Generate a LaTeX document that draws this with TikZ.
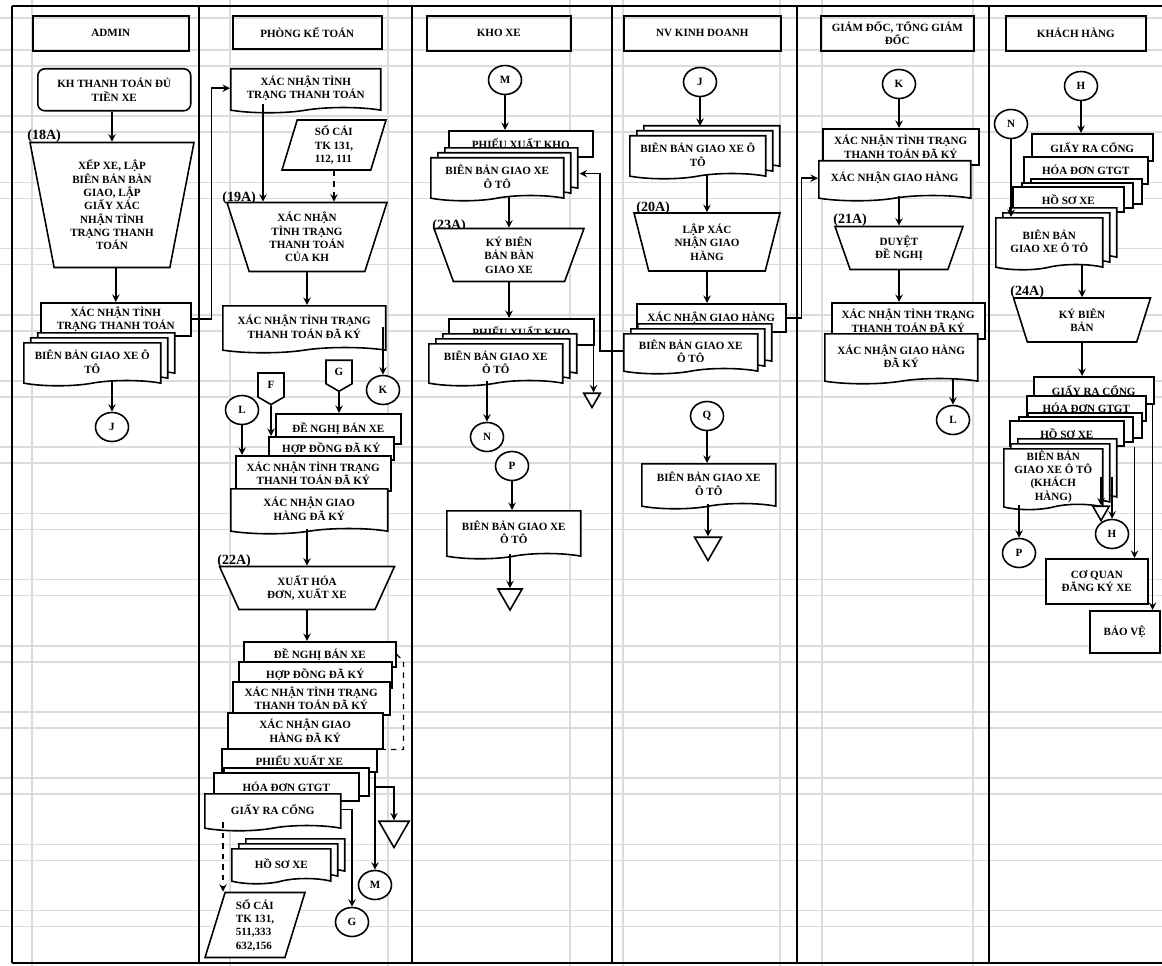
\documentclass[tikz,border=0pt]{standalone}
\usepackage{fontspec}
\setmainfont{Liberation Serif}
\usepackage{tikz}
\usetikzlibrary{shapes,arrows,positioning,calc,shadows}

\begin{document}
\begin{tikzpicture}[
    x=0.02cm, y=-0.02cm,
    font=\fontsize{6.3}{7.6}\selectfont\bfseries,
    gridline/.style={draw=black!14, line width=0.9pt},
    lane/.style={line width=1.1pt},
    head/.style={rectangle, draw, line width=0.9pt, align=center, inner sep=1pt},
    box/.style={rectangle, draw, fill=white, line width=0.9pt, align=center, inner sep=1pt},
    boxstack/.style={box, double copy shadow={shadow xshift=0.18cm, shadow yshift=0.08cm}},
    doc/.style={tape, tape bend top=none, tape bend height=3pt, draw, fill=white, line width=0.9pt, align=center, inner sep=1pt},
    docstack/.style={doc, double copy shadow={shadow xshift=0.14cm, shadow yshift=0.1cm}},
    manop/.style={trapezium, shape border rotate=180, trapezium stretches body, draw, fill=white, line width=0.9pt, align=center, inner sep=0pt},
    ledger/.style={trapezium, trapezium left angle=70, trapezium right angle=110, trapezium stretches body, draw, fill=white, line width=0.9pt, align=left, inner sep=1pt},
    conn/.style={ellipse, draw, fill=white, line width=0.9pt, minimum width=0.66cm, minimum height=0.58cm, inner sep=0pt},
    offpage/.style={signal, signal to=south, signal pointer angle=120, draw, fill=white, line width=0.9pt, minimum width=0.52cm, minimum height=0.52cm, inner sep=0pt},
    sink/.style={regular polygon, regular polygon sides=3, shape border rotate=180, draw, fill=white, line width=0.9pt, inner sep=0pt, minimum size=0.6cm},
    tag/.style={font=\fontsize{8}{9}\selectfont\bfseries, inner sep=0pt},
    arrow/.style={-stealth, line width=0.9pt}
]
    \useasboundingbox (0,0) rectangle (1162,966);
    \foreach \gy in {0,...,13}{
        \draw[gridline] (0,{50+66.2*\gy}) -- (1162,{50+66.2*\gy});
        \draw[gridline] (0,{66+66.2*\gy}) -- (1162,{66+66.2*\gy});
    }
    \draw[gridline] (0,18) -- (1162,18);
    \foreach \gx in {32,230,388,570,623,780,822,973}
        \draw[gridline] (\gx,0) -- (\gx,966);

    \draw[lane, line width=1.6pt] (12,6) -- (1162,6);
    \draw[lane] (12,963) -- (1162,963);
    \foreach \lx in {12,199,412,612,797,989}
        \draw[lane] (\lx,6) -- (\lx,963);

    \node[head, anchor=north west, minimum width=3.12cm, minimum height=0.7cm] (hAdmin) at (32,15) {ADMIN};
    \node[head, anchor=north west, minimum width=2.98cm, minimum height=0.66cm] (hPkt) at (232,15) {PHÒNG KẾ TOÁN};
    \node[head, anchor=north west, minimum width=2.88cm, minimum height=0.7cm] (hKho) at (426,15) {KHO XE};
    \node[head, anchor=north west, minimum width=3.14cm, minimum height=0.7cm] (hNv) at (623,15) {NV KINH DOANH};
    \node[head, anchor=north west, minimum width=3.06cm, minimum height=0.7cm] (hGd) at (820,15) {GIÁM ĐỐC, TỔNG GIÁM\\ĐỐC};
    \node[head, anchor=north west, minimum width=2.8cm, minimum height=0.7cm] (hKh) at (1005,15) {KHÁCH HÀNG};

    \node[box, rounded corners=4pt, anchor=north west, minimum width=3.06cm, minimum height=0.84cm] (khTT) at (37,68) {KH THANH TOÁN ĐỦ\\TIỀN XE};
    \node[tag, anchor=south west] (tag18) at (27,143) {(18A)};
    \node[manop, trapezium angle=75, minimum width=3.28cm, minimum height=2.5cm] (xepXe) at (112,205) {XẾP XE, LẬP\\BIÊN BẢN BÀN\\GIAO, LẬP\\GIẤY XÁC\\NHẬN TÌNH\\TRẠNG THANH\\TOÁN};
    \node[box, anchor=north west, minimum width=3cm, minimum height=0.66cm] (aXn) at (40,302) {XÁC NHẬN TÌNH\\TRẠNG THANH TOÁN};
    \node[docstack, anchor=north west, minimum width=2.74cm, minimum height=0.86cm] (aBb) at (23,342) {BIÊN BẢN GIAO XE Ô\\TÔ};
    \node[conn] (jA) at (112,427) {J};

    \node[doc, anchor=north west, minimum width=3cm, minimum height=0.88cm] (xnTT) at (230,68) {XÁC NHẬN TÌNH\\TRẠNG THANH TOÁN};
    \node[ledger, minimum width=2.08cm, minimum height=1cm] (soCai1) at (334,145) {SỔ CÁI\\TK 131,\\112, 111};
    \node[tag, anchor=south west] (tag19) at (222,205) {(19A)};
    \node[manop, trapezium angle=66, minimum width=3.2cm, minimum height=1.38cm] (xnKH) at (307,237) {XÁC NHẬN\\TÌNH TRẠNG\\THANH TOÁN\\CỦA KH};
    \node[doc, anchor=north west, minimum width=3.26cm, minimum height=0.94cm] (xnDK) at (222,305) {XÁC NHẬN TÌNH TRẠNG\\THANH TOÁN ĐÃ KÝ};
    \node[conn] (kA) at (383,390) {K};
    \node[offpage] (offF) at (271,385) {F};
    \node[offpage] (offG) at (339,372) {G};
    \node[conn] (lA) at (242,410) {L};
    \node[box, anchor=north west, minimum width=2.5cm, minimum height=0.6cm] (s1a) at (275,413) {ĐỀ NGHỊ BÁN XE};
    \node[box, anchor=north west, minimum width=2.5cm, minimum height=0.46cm] (s1b) at (268,436) {HỢP ĐỒNG ĐÃ KÝ};
    \node[box, anchor=north west, minimum width=3.1cm, minimum height=0.7cm] (s1c) at (235,455) {XÁC NHẬN TÌNH TRẠNG\\THANH TOÁN ĐÃ KÝ};
    \node[doc, anchor=north west, minimum width=3.14cm, minimum height=0.9cm] (s1d) at (230,488) {XÁC NHẬN GIAO\\HÀNG ĐÃ KÝ};
    \node[tag, anchor=south west] (tag22) at (217,568) {(22A)};
    \node[manop, trapezium angle=52, minimum width=3.5cm, minimum height=0.86cm] (xuatHD) at (307,588) {XUẤT HÓA\\ĐƠN, XUẤT XE};
    \node[box, anchor=north west, minimum width=3.04cm, minimum height=0.5cm] (t1) at (243,641) {ĐỀ NGHỊ BÁN XE};
    \node[box, anchor=north west, minimum width=3.06cm, minimum height=0.52cm] (t2) at (238,661) {HỢP ĐỒNG ĐÃ KÝ};
    \node[box, anchor=north west, minimum width=3.14cm, minimum height=0.66cm] (t3) at (232,681) {XÁC NHẬN TÌNH TRẠNG\\THANH TOÁN ĐÃ KÝ};
    \node[box, anchor=north west, minimum width=3.1cm, minimum height=0.72cm] (t4) at (227,712) {XÁC NHẬN GIAO\\HÀNG ĐÃ KÝ};
    \node[box, anchor=north west, minimum width=3.1cm, minimum height=0.46cm] (t5) at (221,748) {PHIẾU XUẤT XE};
    \node[box, copy shadow={shadow xshift=0.2cm, shadow yshift=0.1cm}, anchor=north west, minimum width=2.9cm, minimum height=0.56cm] (t6) at (213,772) {HÓA ĐƠN GTGT};
    \node[doc, anchor=north west, minimum width=2.72cm, minimum height=0.74cm] (t7) at (204,793) {GIẤY RA CỔNG};
    \node[docstack, anchor=north west, minimum width=1.98cm, minimum height=0.7cm] (hoSo) at (231,848) {HỒ SƠ XE};
    \node[ledger, minimum width=2cm, minimum height=1.3cm] (soCai2) at (255,925) {SỔ CÁI\\TK 131,\\511,333\\632,156};
    \node[conn] (mA) at (375,885) {M};
    \node[conn] (gA) at (352,922) {G};
    \node[sink, minimum size=0.7cm] (tri1) at (394,830) {};

    \node[conn] (mB) at (505,80) {M};
    \node[box, anchor=north west, minimum width=2.88cm, minimum height=0.52cm] (k1a) at (448,130) {PHIẾU XUẤT KHO};
    \node[docstack, anchor=north west, minimum width=2.66cm, minimum height=0.86cm] (k1b) at (430,157) {BIÊN BẢN GIAO XE\\Ô TÔ};
    \node[tag, anchor=south west] (tag23) at (432,233) {(23A)};
    \node[manop, trapezium angle=62, minimum width=3cm, minimum height=1.06cm] (kyBB) at (509,255) {KÝ BIÊN\\BẢN BÀN\\GIAO XE};
    \node[box, anchor=north west, minimum width=2.9cm, minimum height=0.52cm] (k2a) at (448,318) {PHIẾU XUẤT KHO};
    \node[docstack, anchor=north west, minimum width=2.68cm, minimum height=0.84cm] (k2b) at (428,343) {BIÊN BẢN GIAO XE\\Ô TÔ};
    \node[sink, minimum size=0.38cm] (tri2) at (592,398) {};
    \node[conn] (nA) at (487,437) {N};
    \node[conn] (pA) at (512,466) {P};
    \node[doc, anchor=north west, minimum width=2.68cm, minimum height=0.96cm] (bbP) at (446,510) {BIÊN BẢN GIAO XE\\Ô TÔ};
    \node[sink, minimum size=0.56cm] (tri3) at (510,596) {};

    \node[conn] (jB) at (700,82) {J};
    \node[docstack, anchor=north west, minimum width=2.72cm, minimum height=0.86cm] (nv1) at (629,135) {BIÊN BẢN GIAO XE Ô\\TÔ};
    \node[tag, anchor=south west] (tag20) at (636,215) {(20A)};
    \node[manop, trapezium angle=68, minimum width=2.92cm, minimum height=1.16cm] (lapXN) at (707,242) {LẬP XÁC\\NHẬN GIAO\\HÀNG};
    \node[box, anchor=north west, minimum width=2.98cm, minimum height=0.56cm] (nv2a) at (636,303) {XÁC NHẬN GIAO HÀNG};
    \node[docstack, anchor=north west, minimum width=2.68cm, minimum height=0.8cm] (nv2b) at (623,333) {BIÊN BẢN GIAO XE\\Ô TÔ};
    \node[conn] (qA) at (707,416) {Q};
    \node[doc, anchor=north west, minimum width=2.68cm, minimum height=0.9cm] (bbQ) at (641,463) {BIÊN BẢN GIAO XE\\Ô TÔ};
    \node[sink, minimum size=0.62cm] (tri4) at (708,545) {};

    \node[conn] (kB) at (899,84) {K};
    \node[box, anchor=north west, minimum width=3.12cm, minimum height=0.72cm] (gd1a) at (822,128) {XÁC NHẬN TÌNH TRẠNG\\THANH TOÁN ĐÃ KÝ};
    \node[doc, anchor=north west, minimum width=3.04cm, minimum height=0.8cm] (gd1b) at (818,160) {XÁC NHẬN GIAO HÀNG};
    \node[tag, anchor=south west] (tag21) at (833,227) {(21A)};
    \node[manop, trapezium angle=59, minimum width=2.56cm, minimum height=0.86cm] (duyet) at (899,248) {DUYỆT\\ĐỀ NGHỊ};
    \node[box, anchor=north west, minimum width=3.06cm, minimum height=0.72cm] (gd2a) at (831,302) {XÁC NHẬN TÌNH TRẠNG\\THANH TOÁN ĐÃ KÝ};
    \node[doc, anchor=north west, minimum width=3.06cm, minimum height=1cm] (gd2b) at (824,333) {XÁC NHẬN GIAO HÀNG\\ĐÃ KÝ};
    \node[conn] (lB) at (953,420) {L};

    \node[conn] (hA) at (1081,86) {H};
    \node[conn] (nB) at (1011,124) {N};
    \node[box, anchor=north west, minimum width=2.42cm, minimum height=0.54cm] (kh1a) at (1031,133) {GIẤY RA CỔNG};
    \node[box, anchor=north west, minimum width=2.48cm, minimum height=0.54cm] (kh1b) at (1023,156) {HÓA ĐƠN GTGT};
    \node[boxstack, anchor=north west, minimum width=2.22cm, minimum height=0.5cm] (kh1c) at (1012,186) {HỒ SƠ XE};
    \node[docstack, anchor=north west, minimum width=2.14cm, minimum height=1.04cm] (kh1d) at (995,217) {BIÊN BẢN\\GIAO XE Ô TÔ};
    \node[tag, anchor=south west] (tag24) at (1010,299) {(24A)};
    \node[manop, trapezium angle=59, minimum width=2.74cm, minimum height=0.88cm] (kyBan) at (1082,320) {KÝ BIÊN\\BẢN};
    \node[box, anchor=north west, minimum width=2.4cm, minimum height=0.54cm] (kh2a) at (1033,376) {GIẤY RA CỔNG};
    \node[box, anchor=north west, minimum width=2.38cm, minimum height=0.5cm] (kh2b) at (1026,395) {HÓA ĐƠN GTGT};
    \node[boxstack, anchor=north west, minimum width=2.28cm, minimum height=0.5cm] (kh2c) at (1009,420) {HỒ SƠ XE};
    \node[docstack, anchor=north west, minimum width=1.98cm, minimum height=1.2cm] (kh2d) at (1003,448) {BIÊN BẢN\\GIAO XE Ô TÔ\\(KHÁCH\\HÀNG)};
    \node[conn] (pB) at (1019,553) {P};
    \node[sink, minimum size=0.38cm] (tri5) at (1101,511) {};
    \node[conn] (hB) at (1112,534) {H};
    \node[box, anchor=north west, minimum width=2.04cm, minimum height=0.9cm] (cq) at (1045,558) {CƠ QUAN\\ĐĂNG KÝ XE};
    \node[box, anchor=north west, minimum width=1.4cm, minimum height=0.84cm] (bv) at (1089,610) {BẢO VỆ};

    \draw[arrow] (khTT.south -| xepXe) -- (xepXe.north);
    \draw[arrow] (xepXe.south -| aXn) -- (aXn.north);
    \draw[arrow] (aXn.east) -- ++(20,0) |- (xnTT.west);
    \draw[arrow] (jA |- aBb.south) -- (jA);

    \draw[arrow] ($(xnTT.south west)+(33,-4)$) coordinate (c1) -- (c1 |- xnKH.north);
    \draw[arrow, dashed] (soCai1.south) -- (soCai1.south |- xnKH.north);
    \draw[arrow] (xnKH.south) -- (xnKH.south |- xnDK.north);
    \draw[arrow] (xnDK.east -| kA) -- (kA);
    \draw[arrow] (offG) -- (offG |- s1a.north);
    \draw[arrow] (offF) -- (offF |- s1b.north);
    \draw[arrow] (lA) -- (lA |- s1c.north);
    \draw[arrow] (xuatHD.north |- s1d.south) -- (xuatHD.north);
    \draw[arrow] (xuatHD.south) -- (xuatHD.south |- t1.north);
    \draw[dashed, line width=0.7pt] (t1.east) -- ++(7,7) |- (t4.south east);
    \draw[arrow] (t6.east -| mA) -| (tri1);
    \draw[arrow] (t5.south east -| mA) -- (mA);
    \draw[arrow] (t7.east) -| (gA);
    \draw[arrow, dashed] (t7.south west) ++(19,-4) coordinate (c2) -- (c2 |- soCai2.north);

    \draw[arrow] (mB) -- (mB |- k1a.north);
    \draw[arrow] (kyBB.north |- k1b.south) -- (kyBB.north);
    \draw[arrow] (kyBB.south) -- (kyBB.south |- k2a.north);
    \draw[arrow] (k2a.south east) ++(-1,0) coordinate (c3) -- (c3 |- tri2.north);
    \draw[arrow] (nA |- k2b.south) -- (nA);
    \draw[arrow] (pA) -- (pA |- bbP.north);
    \draw[arrow] (tri3 |- bbP.south) -- (tri3);

    \draw[arrow] (jB) -- ($(jB |- nv1.north)+(0,-9)$);
    \draw[arrow] (lapXN.north |- nv1.south) -- (lapXN.north);
    \draw[arrow] (lapXN.south) -- (lapXN.south |- nv2a.north);
    \draw[arrow] (nv2a.east) -- ++(15,0) |- (gd1b.west);
    \draw[arrow] (nv2b.west) -- ++(-23,0) |- ($(k1b.east)+(15,-3)$);
    \draw[arrow] (qA) -- (qA |- bbQ.north);
    \draw[arrow] (tri4 |- bbQ.south) -- (tri4);

    \draw[arrow] (kB) -- (kB |- gd1a.north);
    \draw[arrow] (duyet.north |- gd1b.south) -- (duyet.north);
    \draw[arrow] (duyet.south) -- (duyet.south |- gd2a.north);
    \draw[arrow] (lB |- gd2b.south) -- (lB);

    \draw[arrow] (hA) -- (hA |- kh1a.north);
    \draw[arrow] (nB) -- (nB |- kh1d.north);
    \draw[arrow] (kyBan.north |- kh1d.south) -- (kyBan.north);
    \draw[arrow] (kyBan.south) -- (kyBan.south |- kh2a.north);
    \draw[arrow] (pB |- kh2d.south) -- (pB);
    \draw[arrow] (tri5 |- kh2d.east) -- (tri5);
    \draw[arrow] (hB |- kh2d.east) -- (hB);
    \draw[arrow] ($(kh2c.south east)+(10,0)$) coordinate (c4) -- (c4 |- cq.north);
    \draw[arrow] ($(kh2a.south east)+(-2,0)$) coordinate (c5) -- (c5 |- bv.north);
\end{tikzpicture}
\end{document}
